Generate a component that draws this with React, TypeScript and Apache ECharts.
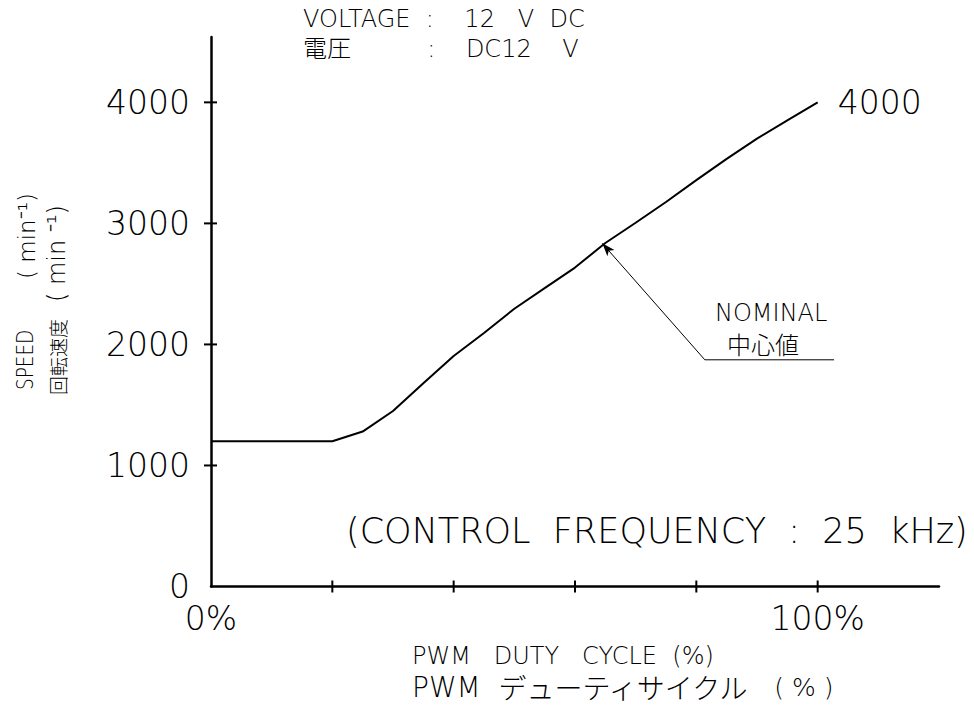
import React, { useEffect, useRef } from "react";
import * as echarts from "echarts";

// ---- data ----
const dutyPct = [0, 20, 25, 30, 35, 40, 45, 50, 55, 60, 65, 70, 75, 80, 85, 90, 95, 100];
const speedRpm = [1200, 1200, 1280, 1450, 1680, 1905, 2095, 2295, 2465, 2635, 2838, 3005, 3177, 3357, 3533, 3700, 3852, 4000];
const xTickValues = [20, 40, 60, 80, 100];
const xLabelValues = [0, 100];
const yTickValues = [1000, 2000, 3000, 4000];
const yLabelValues = [0, 1000, 2000, 3000, 4000];
const leaderArrow = [[64.5, 2835], [81.4, 1873]];
const leaderShelf = [[81.4, 1873], [102.7, 1873]];

const FONT = "'DejaVu Sans', 'Noto Sans CJK JP', sans-serif";
const CJK = "'Noto Sans CJK JP', 'DejaVu Sans', sans-serif";
const W = 200;

export default function App() {
  const ref = useRef<HTMLDivElement>(null);
  useEffect(() => {
    if (!ref.current) return;
    const chart = echarts.init(ref.current, undefined, { renderer: "svg" });
    const curve = dutyPct.map((d, i) => [d, speedRpm[i]]);
    const txt = { fontFamily: FONT, fontWeight: W as any, fill: "#000" };
    // crossing tick marks, drawn through the axes' own scales
    const crossTicks = (onYAxis: boolean) => (params: any, api: any) => {
      const p = api.coord([api.value(0), api.value(1)]);
      return {
        type: "line",
        shape: onYAxis
          ? { x1: p[0] - 7, y1: p[1], x2: p[0] + 6, y2: p[1] }
          : { x1: p[0], y1: p[1] + 6, x2: p[0], y2: p[1] - 6 },
        style: { stroke: "#000", lineWidth: 2 },
      };
    };
    chart.setOption({
      animation: false,
      backgroundColor: "#fff",
      grid: { left: 211, right: 35, top: 37, bottom: 125.5, containLabel: false },
      xAxis: {
        type: "value", min: 0, max: 120, position: "bottom",
        splitLine: { show: false },
        axisLine: { show: true, onZero: false, lineStyle: { color: "#000", width: 2.5 } },
        axisTick: { show: false },
        axisLabel: {
          show: true, customValues: xLabelValues, margin: 15,
          formatter: (v: number) => v + "%",
          color: "#000", fontSize: 33, fontFamily: FONT, fontWeight: W,
        },
      },
      yAxis: {
        type: "value", min: 0, max: 4540, position: "left",
        splitLine: { show: false },
        axisLine: { show: true, onZero: false, lineStyle: { color: "#000", width: 2.5 } },
        axisTick: { show: false },
        axisLabel: {
          show: true, customValues: yLabelValues, margin: 21,
          formatter: (v: number) => String(v),
          color: "#000", fontSize: 33, fontFamily: FONT, fontWeight: W,
        },
      },
      series: [
        {
          type: "line", data: curve,
          symbol: "none", lineStyle: { color: "#000", width: 2 },
          endLabel: {
            show: true, distance: 20, color: "#000", fontSize: 33, fontFamily: FONT, fontWeight: W,
            formatter: (p: any) => String(p.value[1]),
          },
        },
        {
          type: "line", data: leaderShelf,
          symbol: "none", lineStyle: { color: "#000", width: 1 },
          markLine: {
            silent: true, symbol: ["arrow", "none"], symbolSize: [7, 13],
            label: { show: false },
            lineStyle: { color: "#000", width: 1, type: "solid" },
            data: [[{ coord: leaderArrow[0] }, { coord: leaderArrow[1] }]],
          },
        },
        {
          type: "custom", clip: false, silent: true, z: 5,
          encode: { x: 0, y: 1 },
          data: xTickValues.map((v) => [v, 0]),
          renderItem: crossTicks(false),
        },
        {
          type: "custom", clip: false, silent: true, z: 5,
          encode: { x: 0, y: 1 },
          data: yTickValues.map((v) => [0, v]),
          renderItem: crossTicks(true),
        },
      ],
      graphic: [
        { type: "text", x: 303, y: 19, style: { ...txt, text: "VOLTAGE  :    12   V  DC", fontSize: 24, verticalAlign: "middle" } },
        { type: "text", x: 303, y: 49, style: { ...txt, text: "電圧          :    DC12    V", fontSize: 24, verticalAlign: "middle" } },
        { type: "text", x: 715, y: 312.5, style: { ...txt, text: "NOMINAL", fontSize: 24, verticalAlign: "middle" } },
        { type: "text", x: 727, y: 343, style: { ...txt, fontFamily: CJK, text: "中心値", fontSize: 24, verticalAlign: "middle" } },
        { type: "text", x: 346, y: 531, style: { ...txt, text: "(CONTROL  FREQUENCY  :  25  kHz)", fontSize: 35, verticalAlign: "middle" } },
        { type: "text", x: 412, y: 656, style: { ...txt, text: "PWM   DUTY   CYCLE  (%)", fontSize: 24, lineHeight: 24, verticalAlign: "middle" } },
        {
          type: "text", x: 412, y: 687,
          style: {
            ...txt, verticalAlign: "middle",
            text: "{a|PWM  }{b|デューティサイクル}{c|   ( % )}",
            rich: {
              a: { fontSize: 28, lineHeight: 26, fontFamily: FONT, fontWeight: W, fill: "#000" },
              b: { fontSize: 28, lineHeight: 26, fontFamily: CJK, fontWeight: W, fill: "#000" },
              c: { fontSize: 25, lineHeight: 26, fontFamily: FONT, fontWeight: W, fill: "#000" },
            },
          },
        },
        { type: "text", x: 25, y: 390, rotation: Math.PI / 2, scaleX: 0.8, style: { ...txt, text: "SPEED", fontSize: 23, verticalAlign: "middle", align: "left" } },
        { type: "text", x: 27, y: 279, rotation: Math.PI / 2, style: { ...txt, text: "( min⁻¹)", fontSize: 23, verticalAlign: "middle", align: "left" } },
        { type: "text", x: 57, y: 395, rotation: Math.PI / 2, style: { ...txt, fontFamily: CJK, text: "回転速度", fontSize: 19, verticalAlign: "middle", align: "left" } },
        { type: "text", x: 57, y: 302, rotation: Math.PI / 2, style: { ...txt, text: "( min ⁻¹)", fontSize: 24, verticalAlign: "middle", align: "left" } },
      ],
    });
    return () => chart.dispose();
  }, []);
  return <div ref={ref} style={{ position: "absolute", left: 0, top: 0, width: 974, height: 712, background: "#fff" }} />;
}
